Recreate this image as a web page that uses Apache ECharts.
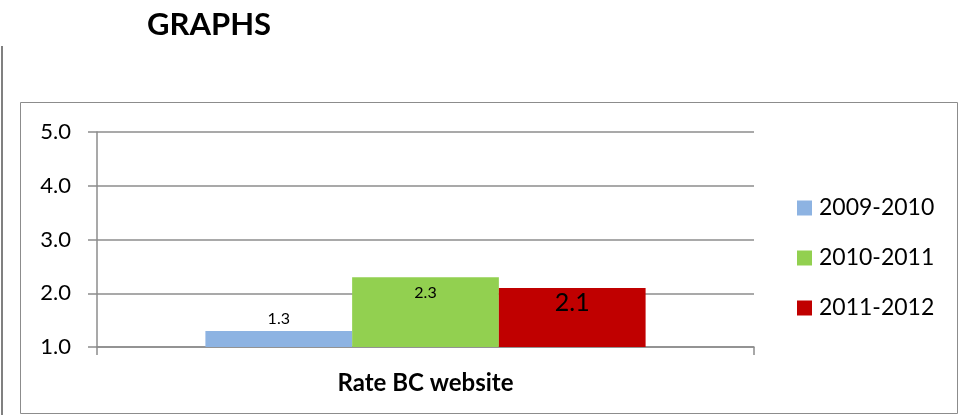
<!DOCTYPE html>
<html>
<head>
<meta charset="utf-8">
<script src="https://cdn.jsdelivr.net/npm/echarts@6/dist/echarts.min.js"></script>
<style>
  html, body { margin: 0; padding: 0; background: #fff; }
  #chart { width: 960px; height: 415px; }
</style>
</head>
<body>
<div id="chart"></div>
<script>
  // data
  const categories = ['Rate BC website']
  const seriesNames = ['2009-2010', '2010-2011', '2011-2012']
  const seriesValues = [[1.3], [2.3], [2.1]]
  const seriesColors = ['#8db3e2', '#92d050', '#c00000']
  const yTicks = [1, 2, 3, 4, 5]

  const font = 'Lato, "Open Sans", sans-serif'
  const axisGray = '#8c8c8c'

  // label styles differ per bar in the original
  const labelStyles = [
    { position: 'top', fontSize: 16, distance: 4 },
    { position: 'insideTop', fontSize: 16, distance: 8 },
    { position: 'insideTop', fontSize: 25, distance: 3 }
  ]

  const chart = echarts.init(document.getElementById('chart'))

  const option = {
    backgroundColor: '#fff',
    animation: false,
    textStyle: { fontFamily: font },
    title: {
      text: 'GRAPHS',
      left: 142,
      top: 4,
      textStyle: { fontFamily: font, fontSize: 31, fontWeight: 'bold', color: '#000' }
    },
    graphic: [
      { type: 'line', shape: { x1: 2, y1: 46, x2: 2, y2: 415 }, style: { stroke: '#808080', lineWidth: 2 } },
      { type: 'rect', shape: { x: 20.5, y: 102.5, width: 937, height: 311 }, style: { fill: 'none', stroke: '#8c8c8c', lineWidth: 1 } }
    ],
    legend: {
      orient: 'vertical',
      left: 797,
      top: 196,
      padding: 0,
      itemWidth: 15,
      itemHeight: 15,
      itemGap: 26,
      icon: 'rect',
      textStyle: { fontFamily: font, fontSize: 23, lineHeight: 24, color: '#000', padding: [0, 0, 0, 2] },
      data: seriesNames
    },
    grid: { left: 97, right: 206, top: 132, bottom: 68, containLabel: false },
    xAxis: {
      type: 'category',
      data: categories,
      axisLine: { lineStyle: { color: axisGray, width: 1.5 } },
      axisTick: { show: true, length: 8, lineStyle: { color: axisGray, width: 1.5 } },
      axisLabel: { margin: 24, fontFamily: font, fontSize: 24, fontWeight: 'bold', color: '#000' }
    },
    yAxis: {
      type: 'value',
      min: yTicks[0],
      max: yTicks[yTicks.length - 1],
      interval: 1,
      axisLine: { show: true, lineStyle: { color: axisGray, width: 1.5 } },
      axisTick: { show: true, length: 9, lineStyle: { color: axisGray, width: 1.5 } },
      splitLine: { lineStyle: { color: axisGray, width: 1.5 } },
      axisLabel: {
        margin: 26,
        fontFamily: font,
        fontSize: 22,
        color: '#000',
        formatter: v => v.toFixed(1)
      }
    },
    series: seriesNames.map((name, i) => ({
      name: name,
      type: 'bar',
      data: seriesValues[i],
      barGap: 0,
      barCategoryGap: '33%',
      itemStyle: { color: seriesColors[i] },
      label: {
        show: true,
        position: labelStyles[i].position,
        distance: labelStyles[i].distance,
        fontFamily: font,
        fontSize: labelStyles[i].fontSize,
        color: '#000',
        formatter: p => p.value.toFixed(1)
      }
    }))
  }

  chart.setOption(option)
</script>
</body>
</html>
